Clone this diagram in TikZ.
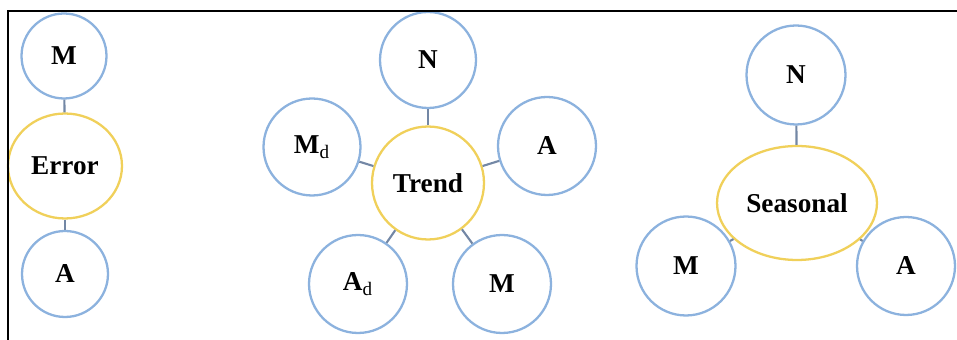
\documentclass[tikz,border=0pt]{standalone}
\usepackage{fontspec}
\setmainfont{Liberation Serif}
\usepackage{tikz}
\usetikzlibrary{shapes.geometric}
\definecolor{leafblue}{RGB}{140,178,222}
\definecolor{hubyellow}{RGB}{240,208,90}
\definecolor{linkgray}{RGB}{115,135,165}
\tikzset{
  leaf/.style={circle,draw=leafblue,line width=1.3pt,fill=white,inner sep=0pt},
  hub/.style={ellipse,draw=hubyellow,line width=1.3pt,fill=white,inner sep=0pt},
  link/.style={draw=linkgray,line width=1.2pt},
}
\begin{document}
\begin{tikzpicture}[x=0.02cm,y=-0.02cm,every node/.style={font=\fontsize{15.5}{18}\selectfont\bfseries}]
\useasboundingbox (0,0) rectangle (957,340);
% Error
\node[hub,minimum width=2.28cm,minimum height=2.1cm] (err) at (65,166) {Error};
\node[leaf,minimum size=1.7cm] (errM) at (64,56) {M};
\node[leaf,minimum size=1.72cm] (errA) at (65,274) {A};
\draw[link] (err) -- (errM);
\draw[link] (err) -- (errA);
% Trend
\node[hub,minimum width=2.24cm,minimum height=2.26cm] (trend) at (428,183) {Trend};
\node[leaf,minimum size=1.92cm] (trN) at (428,60) {N};
\node[leaf,minimum size=1.94cm] (trMd) at (312,147) {M\textsubscript{\mdseries d}};
\node[leaf,minimum size=1.96cm] (trA) at (547,146) {A};
\node[leaf,minimum size=1.96cm] (trAd) at (358,284) {A\textsubscript{\mdseries d}};
\node[leaf,minimum size=1.96cm] (trM) at (502,284) {M};
\foreach \n in {trN,trMd,trA,trAd,trM}
  \draw[link] (trend) -- (\n);
% Seasonal
\node[hub,minimum width=3.2cm,minimum height=2.28cm] (seas) at (797,203) {Seasonal};
\node[leaf,minimum size=1.98cm] (seN) at (796,75) {N};
\node[leaf,minimum size=1.98cm] (seM) at (686,266) {M};
\node[leaf,minimum size=1.96cm] (seA) at (906,266) {A};
\foreach \n in {seN,seM,seA}
  \draw[link] (seas) -- (\n);
% frame
\draw[line width=0.8pt] (8,340) -- (8,11) -- (957,11);
\end{tikzpicture}
\end{document}
